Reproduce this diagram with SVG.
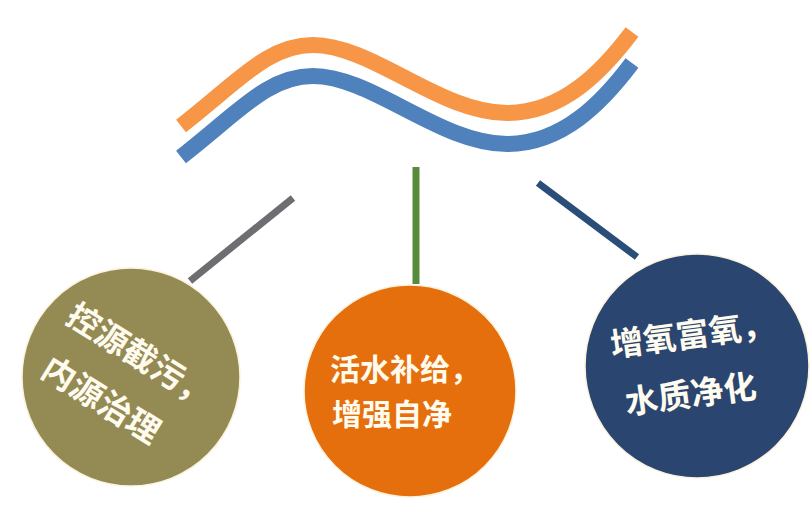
<svg xmlns="http://www.w3.org/2000/svg" width="812" height="516" viewBox="0 0 812 516">
<style>
.wave{fill:none;stroke-width:16;stroke-linecap:butt}
.conn{stroke-width:7;stroke-linecap:butt}
.node circle{stroke:#fbf2dc;stroke-width:1.5}
.lbl{font-family:"Noto Sans CJK SC","Noto Sans",sans-serif;font-weight:bold;fill:#fffbee}
</style>
<defs>
<path id="w" d="M181,126 C240,80 268,45 313,45 C372,45 440,113 507,113 C562,113 602,72 632,32"/>
</defs>
<rect width="812" height="516" fill="#ffffff"/>
<g id="waves">
<use href="#w" class="wave" stroke="#F79646"/>
<use href="#w" class="wave" stroke="#4F81BD" transform="translate(0,31)"/>
</g>
<g id="connectors">
<line class="conn" x1="293" y1="198" x2="190" y2="281" stroke="#6E6E72"/>
<line class="conn" x1="416" y1="167" x2="416" y2="284" stroke="#578A3A"/>
<line class="conn" x1="538" y1="183" x2="637" y2="257" stroke="#2A4E78"/>
</g>
<g id="node-left" class="node">
<circle cx="131" cy="377" r="109" fill="#948A54"/>
<g transform="translate(131,377) rotate(32)">
<text class="lbl" x="-86" y="-11" font-size="33">控源截污，</text>
<text class="lbl" x="-79" y="47" font-size="33">内源治理</text>
</g>
</g>
<g id="node-middle" class="node">
<circle cx="410" cy="391" r="106" fill="#E66F0D"/>
<text class="lbl" x="330" y="380" font-size="30">活水补给，</text>
<text class="lbl" x="332" y="425" font-size="30">增强自净</text>
</g>
<g id="node-right" class="node">
<circle cx="697" cy="366" r="112" fill="#2A4570"/>
<g transform="translate(697,366) rotate(-7.5)">
<text class="lbl" x="-83" y="-20" font-size="33">增氧富氧，</text>
<text class="lbl" x="-76" y="39" font-size="33">水质净化</text>
</g>
</g>
</svg>
